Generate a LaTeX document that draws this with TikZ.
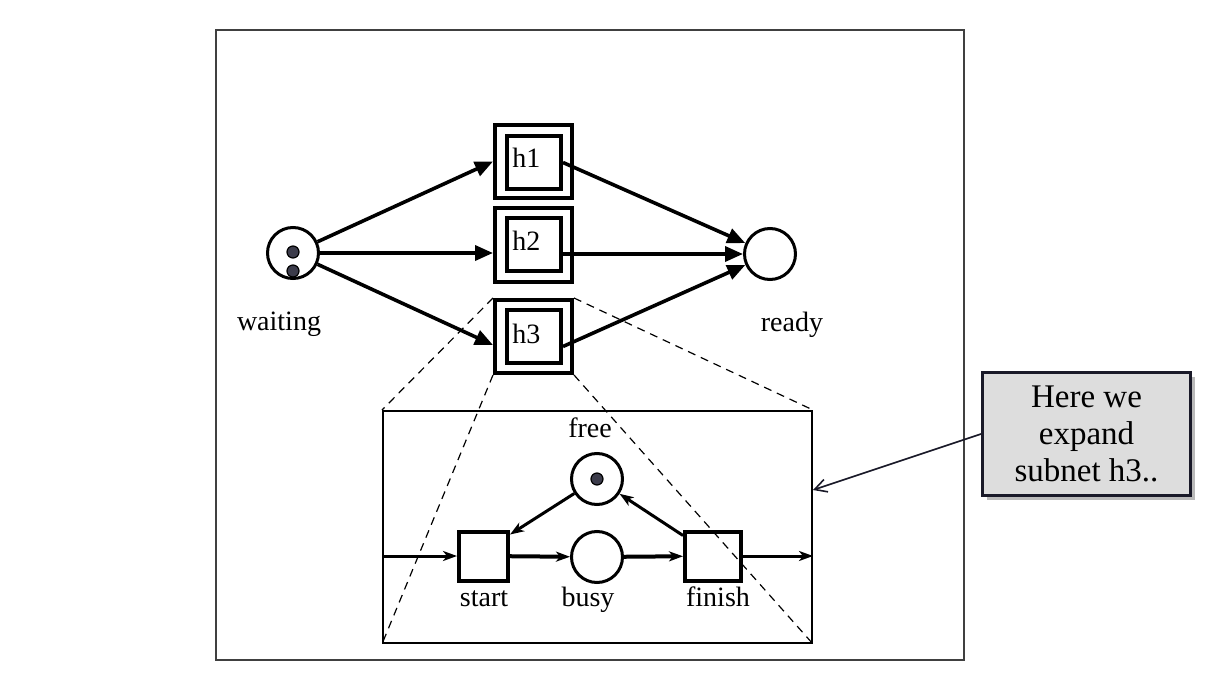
\documentclass[tikz,border=0pt]{standalone}
\usepackage{fontspec}
\setmainfont{Liberation Serif}
\usepackage{xcolor}
\usetikzlibrary{arrows.meta,shadows}
\definecolor{tokgray}{RGB}{60,60,75}
\definecolor{notecol}{RGB}{25,25,40}
\definecolor{notefill}{RGB}{221,221,221}

\begin{document}
\begin{tikzpicture}[x=0.5pt,y=-0.5pt,font=\fontsize{14}{17}\selectfont]%
  \tikzstyle{placer}=[circle,draw,line width=1.5pt,minimum size=25.5pt,inner sep=0]
  \tikzstyle{dotter}=[circle,draw,line width=0.6pt,fill=tokgray,minimum size=6pt,inner sep=0]
  \tikzstyle{houter}=[rectangle,draw,line width=2pt,minimum width=38.5pt,minimum height=36.5pt]
  \tikzstyle{hinner}=[rectangle,draw,line width=2pt,minimum width=27pt,minimum height=26.5pt]
  \tikzstyle{boxer}=[rectangle,draw,line width=2pt,minimum height=24.5pt,inner sep=0]
  \tikzstyle{namer}=[inner sep=0]
  \tikzstyle{arcer}=[line width=1.8pt,-{Triangle[length=9pt,width=7.5pt]}]
  \tikzstyle{subarc}=[line width=1.5pt,-{Stealth[length=7pt,width=5pt,inset=2pt]}]
  \tikzstyle{zoomer}=[line width=0.6pt,dash pattern=on 4pt off 3pt]
  \tikzstyle{noter}=[rectangle,draw=notecol,line width=1.5pt,fill=notefill,minimum width=104pt,minimum height=61.5pt,inner sep=0,align=center,font=\fontsize{16.5}{18.3}\selectfont,drop shadow={shadow xshift=2pt,shadow yshift=-2pt,fill=black!45,opacity=0.6}]
  \useasboundingbox (0,0) rectangle (1211,674);
  \draw[line width=0.7pt,black!75] (216,30) rectangle (964,660);
  % top level net
  \node(waiting)[placer] at (293,253) {};
  \node(wtok1)[dotter] at (293,252) {};
  \node(wtok2)[dotter] at (293,271) {};
  \node(ready)[placer] at (770,254) {};
  \node(h1out)[houter] at (533.5,161.5) {};
  \node(h1in)[hinner] at (534,162.5) {};
  \node(h2out)[houter] at (533.5,245) {};
  \node(h2in)[hinner] at (534,244.5) {};
  \node(h3out)[houter] at (533.5,336.5) {};
  \node(h3in)[hinner] at (534,336.5) {};
  \node(h1name)[namer,anchor=base west] at (512,168) {h1};
  \node(h2name)[namer,anchor=base west] at (512,250) {h2};
  \node(h3name)[namer,anchor=base west] at (512,343) {h3};
  \node(waitname)[namer,anchor=base] at (279,330) {waiting};
  \node(readyname)[namer,anchor=base] at (792,331) {ready};
  \draw[arcer] (waiting) -- (h1out.west);
  \draw[arcer] (waiting) -- (h2out.west |- waiting);
  \draw[arcer] (waiting) -- ([yshift=-4.25pt]h3out.west);
  \draw[arcer] (h1in.east) -- (ready);
  \draw[arcer] ([yshift=-4.75pt]h2in.east) -- (ready);
  \draw[arcer] ([yshift=-5pt]h3in.east) -- (ready);
  % subnet h3
  \node(sub)[rectangle,draw,line width=1pt,minimum width=214.5pt,minimum height=116pt] at (597.5,527) {};
  \draw[zoomer] (h3out.north west) -- (sub.north west);
  \draw[zoomer] (h3out.south west) -- (sub.south west);
  \draw[zoomer] (h3out.north east) -- (sub.north east);
  \draw[zoomer] (h3out.south east) -- (sub.south east);
  \node(free)[placer] at (597,479) {};
  \node(ftok)[dotter] at (597,479) {};
  \node(busy)[placer] at (597,557) {};
  \node(start)[boxer,minimum width=24.5pt] at (483.5,556) {};
  \node(finish)[boxer,minimum width=28pt] at (713,556) {};
  \node(freename)[namer,anchor=base] at (590,437) {free};
  \node(startname)[namer,anchor=base] at (484,606) {start};
  \node(busyname)[namer,anchor=base] at (588,606) {busy};
  \node(finishname)[namer,anchor=base] at (718,606) {finish};
  \draw[subarc] (sub.west |- start) -- (start);
  \draw[subarc,line width=2pt] (start) -- (busy);
  \draw[subarc,line width=2pt] (busy) -- (finish);
  \draw[subarc] (finish) -- (sub.east |- finish);
  \draw[subarc] (free) -- ([yshift=-2.5pt]start.north east);
  \draw[subarc] ([yshift=-3pt]finish.north west) -- (free);
  % note
  \node(note)[noter] at (1086.5,434) {Here we\\expand\\subnet h3..};
  \coordinate(notetip) at (813,490);
  \draw[notecol,line width=0.8pt,-{Straight Barb[length=6pt,width=6.5pt]}] (note.west) -- (notetip);
\end{tikzpicture}
\end{document}
